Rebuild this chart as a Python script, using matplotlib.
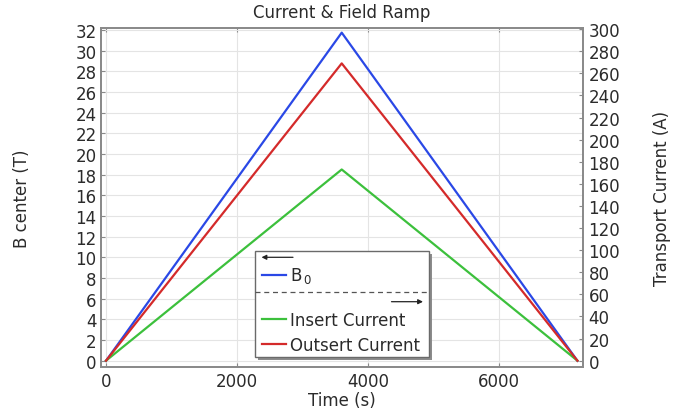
import matplotlib
matplotlib.use("Agg")
import matplotlib.pyplot as plt
from matplotlib.patches import Rectangle, FancyArrowPatch
from matplotlib.lines import Line2D

# Дані (лінійний підйом і спад)
time_s = [0, 3600, 7200]
b_center = [0, 31.75, 0]
insert_current = [0, 173, 0]
outsert_current = [0, 269, 0]

left_ticks = list(range(0, 33, 2))
right_ticks = list(range(0, 301, 20))
x_ticks = [0, 2000, 4000, 6000]

blue = '#2a48e6'
red = '#d42a2a'
green = '#3cc03c'
txt = '#2b2b2b'
spine_c = '#8a8a8a'
W, H = 688, 410
fs = 12

def fx(px):
    return px / W

def fy(py):
    return 1 - py / H

fig = plt.figure(figsize=(6.88, 4.10), dpi=100)
ax = fig.add_axes([fx(100.7), fy(368), fx(583) - fx(100.7), fy(29) - fy(368)])
ax2 = ax.twinx()

ax.plot(time_s, b_center, color=blue, lw=1.6, zorder=3)
ax2.plot(time_s, insert_current, color=green, lw=1.6, zorder=3)
ax2.plot(time_s, outsert_current, color=red, lw=1.6, zorder=3)

ax.set_xlim(-81, 7285)
ax.set_ylim(-0.6, 32.2)
ax2.set_ylim(-5.7, 301)
ax.set_xticks(x_ticks)
ax.set_yticks(left_ticks)
ax2.set_yticks(right_ticks)

ax.grid(True, color='#e4e4e4', lw=0.8)
ax.set_axisbelow(True)

for a in (ax, ax2):
    for s in a.spines.values():
        s.set_color(spine_c)
        s.set_linewidth(1.3)
ax.tick_params(direction='in', length=3, color=spine_c, labelsize=fs,
               labelcolor=txt, top=True, pad=3)
ax.tick_params(axis='x', pad=3.5)
ax2.tick_params(direction='in', length=3, color=spine_c, labelsize=fs,
                labelcolor=txt, pad=4)

ax.set_title('Current & Field Ramp', fontsize=fs, color=txt, pad=8)
ax.set_xlabel('Time (s)', fontsize=fs, color=txt, labelpad=0.5)
ax.set_ylabel('B center (T)', fontsize=fs, color=txt)
ax2.set_ylabel('Transport Current (A)', fontsize=fs, color=txt)
ax.yaxis.label.set_va('center')
ax2.yaxis.label.set_va('center')
ax.yaxis.set_label_coords((22 - 100.7) / 482.3, 0.5)
ax2.yaxis.set_label_coords((662 - 100.7) / 482.3, 0.5)

# Легенда вручну
x0, x1, y0, y1 = 255, 429, 252, 358
fig.add_artist(Rectangle((fx(x0 + 2.5), fy(y1 + 2.5)), fx(x1 - x0), fy(y0) - fy(y1),
                         transform=fig.transFigure, facecolor='#8c8c8c',
                         edgecolor='none', zorder=5))
fig.add_artist(Rectangle((fx(x0), fy(y1)), fx(x1 - x0), fy(y0) - fy(y1),
                         transform=fig.transFigure, facecolor='white',
                         edgecolor='#6a6a6a', lw=1.0, zorder=6))
fig.add_artist(FancyArrowPatch((fx(293), fy(258.3)), (fx(261.5), fy(258.3)),
                               transform=fig.transFigure, arrowstyle='-|>',
                               mutation_scale=7, color='#222222', lw=0.9,
                               shrinkA=0, shrinkB=0, zorder=7))
fig.add_artist(Line2D([fx(262), fx(286)], [fy(276), fy(276)], color=blue, lw=1.6,
                      transform=fig.transFigure, zorder=7))
fig.text(fx(290), fy(276), 'B', fontsize=fs, color=txt, va='center', ha='left', zorder=7)
fig.text(fx(303.5), fy(280), '0', fontsize=8.5, color=txt, va='center', ha='left', zorder=7)
fig.add_artist(Line2D([fx(x0), fx(x1)], [fy(293.3), fy(293.3)], color='#555555',
                      lw=0.9, ls=(0, (4, 3)), transform=fig.transFigure, zorder=7))
fig.add_artist(FancyArrowPatch((fx(391.5), fy(302.7)), (fx(423), fy(302.7)),
                               transform=fig.transFigure, arrowstyle='-|>',
                               mutation_scale=7, color='#222222', lw=0.9,
                               shrinkA=0, shrinkB=0, zorder=7))
fig.add_artist(Line2D([fx(262), fx(286)], [fy(320), fy(320)], color=green, lw=1.6,
                      transform=fig.transFigure, zorder=7))
fig.text(fx(290), fy(321), 'Insert Current', fontsize=fs, color=txt,
         va='center', ha='left', zorder=7)
fig.add_artist(Line2D([fx(262), fx(286)], [fy(345), fy(345)], color=red, lw=1.6,
                      transform=fig.transFigure, zorder=7))
fig.text(fx(290), fy(346), 'Outsert Current', fontsize=fs, color=txt,
         va='center', ha='left', zorder=7)

fig.savefig('out.png', dpi=100)
